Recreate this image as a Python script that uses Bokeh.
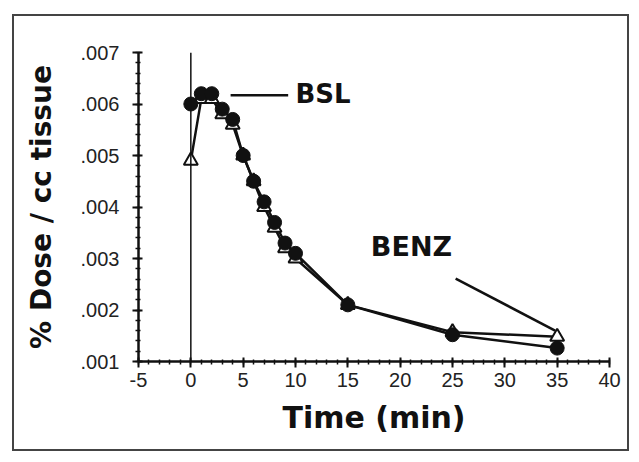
from bokeh.plotting import figure
from bokeh.models import FixedTicker, Span
from bokeh.core.properties import value
from bokeh.embed import file_html
from bokeh.resources import INLINE

# ---- data ----
time_min = [0, 1, 2, 3, 4, 5, 6, 7, 8, 9, 10, 15, 25, 35]
bsl = [0.0060, 0.0062, 0.0062, 0.0059, 0.0057, 0.0050, 0.0045, 0.0041,
       0.0037, 0.0033, 0.0031, 0.0021, 0.00152, 0.00126]
benz = [0.0049, 0.0061, 0.0061, 0.0058, 0.0056, 0.0050, 0.0045, 0.0040,
        0.0036, 0.0032, 0.0030, 0.0021, 0.00157, 0.00148]

x_ticks = [-5, 0, 5, 10, 15, 20, 25, 30, 35, 40]
x_tick_labels = ["-5", "0", "5", "10", "15", "20", "25", "30", "35", "40"]
y_ticks = [0.001, 0.002, 0.003, 0.004, 0.005, 0.006, 0.007]
y_tick_labels = [".001", ".002", ".003", ".004", ".005", ".006", ".007"]
x_minor = list(range(-5, 41))
y_minor = [0.001 + i * 0.0002 for i in range(31)]

label_text = ["BSL", "BENZ"]
label_x = [10.0, 17.2]
label_y = [0.0062, 0.00323]
label_size = ["26px", "27px"]
leader_x0 = [3.8, 25.3]
leader_y0 = [0.00617, 0.00261]
leader_x1 = [9.3, 34.8]
leader_y1 = [0.00617, 0.00160]

FONT = "DejaVu Sans"
TICK_FONT = "Liberation Sans"
INK = "#111111"

p = figure(width=617, height=437, x_range=(-5, 40), y_range=(0.001, 0.007),
           output_backend="svg", toolbar_location=None,
           min_border_left=124, min_border_right=22,
           min_border_top=36, min_border_bottom=92)
p.styles = {"margin-left": "12px", "margin-top": "14px",
            "border": "2px solid #444444"}

p.xgrid.visible = False
p.ygrid.visible = False
p.outline_line_color = None
p.background_fill_color = "white"
p.border_fill_color = "white"

p.xaxis.ticker = FixedTicker(ticks=x_ticks, minor_ticks=x_minor)
p.yaxis.ticker = FixedTicker(ticks=y_ticks, minor_ticks=y_minor)
p.xaxis.major_label_overrides = dict(zip(x_ticks, x_tick_labels))
p.yaxis.major_label_overrides = dict(zip(y_ticks, y_tick_labels))

for ax in (p.xaxis[0], p.yaxis[0]):
    ax.axis_line_width = 2.5
    ax.axis_line_color = INK
    ax.major_tick_line_color = INK
    ax.major_tick_line_width = 2
    ax.major_tick_out = 6
    ax.major_tick_in = 4
    ax.minor_tick_line_color = INK
    ax.minor_tick_line_width = 1.5
    ax.minor_tick_out = 3
    ax.minor_tick_in = 2
    ax.major_label_text_font = TICK_FONT
    ax.major_label_text_font_size = "20px"
    ax.major_label_text_color = "#222222"
    ax.axis_label_text_font = FONT
    ax.axis_label_text_font_style = "bold"
    ax.axis_label_text_color = INK

p.xaxis.major_label_standoff = 5
p.yaxis.major_label_standoff = 13
p.xaxis.axis_label = "Time (min)"
p.xaxis.axis_label_text_font_size = "30px"
p.xaxis.axis_label_standoff = 10
p.yaxis.axis_label = "% Dose / cc tissue"
p.yaxis.axis_label_text_font_size = "28px"
p.yaxis.axis_label_standoff = 20

p.add_layout(Span(location=0, dimension="height", line_color=INK, line_width=1.5))

p.line(time_min, benz, line_color=INK, line_width=2.5)
p.line(time_min, bsl, line_color=INK, line_width=2.5)
p.scatter(time_min, benz, marker="triangle", size=14, fill_color="white",
          line_color=INK, line_width=2)
p.scatter(time_min, bsl, marker="circle", size=14, fill_color=INK,
          line_color=INK, line_width=1)

p.segment(leader_x0, leader_y0, leader_x1, leader_y1, line_color=INK, line_width=2.5)
p.text(label_x[:1], label_y[:1], text=label_text[:1], text_font=value(FONT),
       text_font_style="bold", text_font_size=label_size[0], text_color=INK,
       text_align="left", text_baseline="middle")
p.text(label_x[1:], label_y[1:], text=label_text[1:], text_font=value(FONT),
       text_font_style="bold", text_font_size=label_size[1], text_color=INK,
       text_align="left", text_baseline="middle")

open("out.html", "w").write(file_html(p, INLINE))
